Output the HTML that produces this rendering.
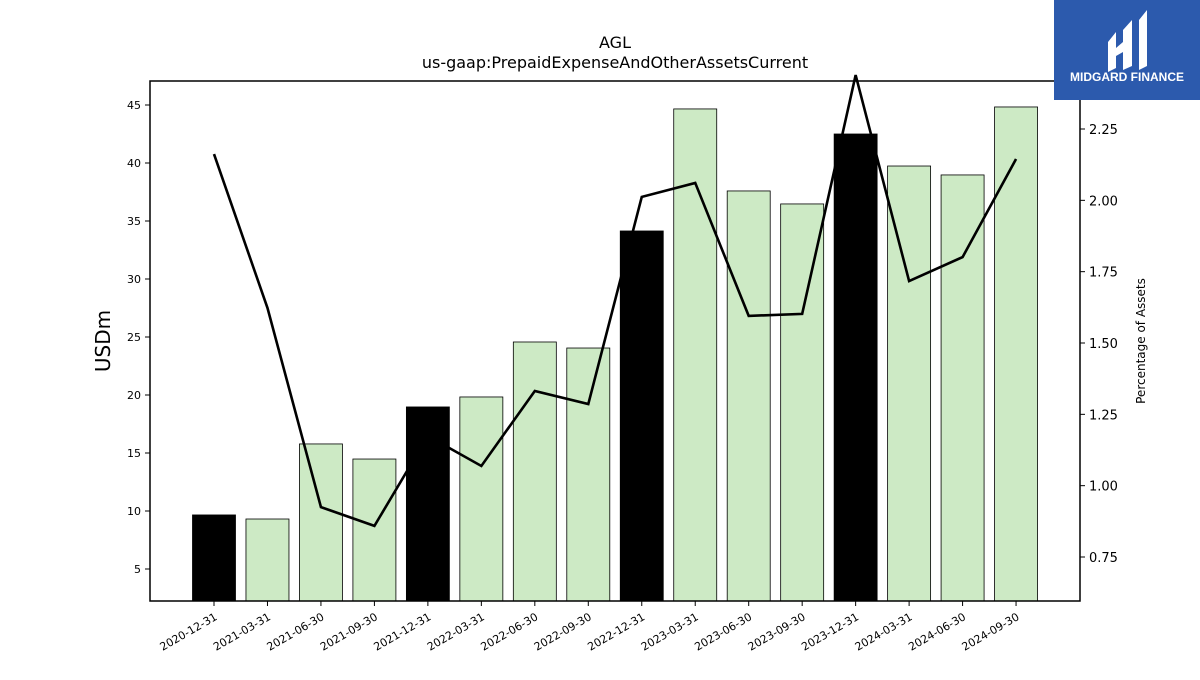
<!DOCTYPE html>
<html><head><meta charset="utf-8"><style>
body{margin:0;background:#fff;font-family:"Liberation Sans","DejaVu Sans",sans-serif}
</style></head><body>
<svg id="c" width="1200" height="675" xmlns="http://www.w3.org/2000/svg" font-family="DejaVu Sans, Liberation Sans, sans-serif">
<rect width="1200" height="675" fill="#fff"/>
<text x="615" y="48" text-anchor="middle" font-size="16">AGL</text>
<text x="615" y="68" text-anchor="middle" font-size="16">us-gaap:PrepaidExpenseAndOtherAssetsCurrent</text>
<g id="bars"></g>
<g id="ax"></g>
<text transform="translate(110,341) rotate(-90)" text-anchor="middle" font-size="20">USDm</text>
<text transform="translate(1145,341) rotate(-90)" text-anchor="middle" font-size="12">Percentage of Assets</text>
<g>
<rect x="1054" y="0" width="146" height="100" fill="#2c5aad"/>
<path d="M1108 42 L1116 32 L1116 68 L1108 72 Z M1123 30 L1132 20 L1132 66 L1123 70 Z M1139 20 L1147 10 L1147 66 L1139 70 Z M1116 48 L1123 42 L1123 52 L1116 56 Z" fill="#fff"/>
<text x="1127" y="81" text-anchor="middle" font-size="12" font-weight="bold" fill="#fff" font-family="Liberation Sans, sans-serif">MIDGARD FINANCE</text>
</g>
</svg>
<script>
const categories=["2020-12-31","2021-03-31","2021-06-30","2021-09-30","2021-12-31","2022-03-31","2022-06-30","2022-09-30","2022-12-31","2023-03-31","2023-06-30","2023-09-30","2023-12-31","2024-03-31","2024-06-30","2024-09-30"];
const barValues=[9.66,9.31,15.78,14.48,18.97,19.83,24.57,24.05,34.14,44.66,37.59,36.47,42.5,39.74,38.97,44.83];
const pctValues=[2.162,1.623,0.925,0.859,1.174,1.069,1.332,1.286,2.012,2.061,1.595,1.602,2.439,1.717,1.801,2.145];
const leftTicks=[5,10,15,20,25,30,35,40,45];
const rightTicks=[0.75,1.00,1.25,1.50,1.75,2.00,2.25];
const NS="http://www.w3.org/2000/svg";
const L=150,R=1080,T=81,B=601;
const yL=v=>569-(v-5)*11.6;
const yR=p=>557-(p-0.75)*285.33;
const xC=i=>214+i*53.47;
function el(t,a,p){const e=document.createElementNS(NS,t);for(const k in a)e.setAttribute(k,a[k]);p.appendChild(e);return e;}
const bars=document.getElementById('bars'),ax=document.getElementById('ax');
barValues.forEach((v,i)=>{
 const dec=categories[i].endsWith('12-31');
 const r=el('rect',{x:xC(i)-21.5,y:yL(v),width:43,height:B-yL(v),fill:dec?'#000':'#cdeac5',stroke:'#000','stroke-width':0.8},bars);
 
 
});
const pts=pctValues.map((p,i)=>xC(i)+','+yR(p)).join(' ');
const ln=el('polyline',{points:pts,fill:'none',stroke:'#000','stroke-width':2.6},bars);


const fr=el('rect',{x:L,y:T,width:R-L,height:B-T,fill:'none',stroke:'#000','stroke-width':1.5},ax);


leftTicks.forEach(v=>{const y=yL(v);el('line',{x1:L-5,x2:L,y1:y,y2:y,stroke:'#000'},ax);
 const t=el('text',{x:L-9,y:y+4,'text-anchor':'end','font-size':11},ax);t.textContent=v;
 });
rightTicks.forEach(v=>{const y=yR(v);el('line',{x1:R,x2:R+5,y1:y,y2:y,stroke:'#000'},ax);
 const t=el('text',{x:R+9,y:y+5,'font-size':13},ax);t.textContent=v.toFixed(2);
 });
categories.forEach((c,i)=>{const x=xC(i);el('line',{x1:x,x2:x,y1:B,y2:B+5,stroke:'#000'},ax);
 const t=el('text',{x:x+4,y:B+18,'text-anchor':'end','font-size':11,transform:`rotate(-30 ${x+4} ${B+18})`},ax);t.textContent=c;
 });
</script>
</body></html>
